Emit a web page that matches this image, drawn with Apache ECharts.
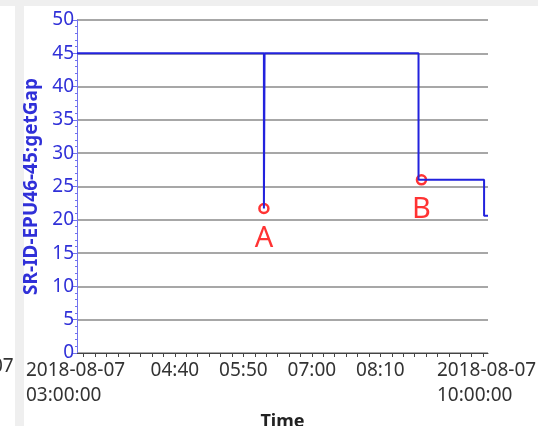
<!DOCTYPE html>
<html>
<head>
<meta charset="utf-8">
<script src="https://cdn.jsdelivr.net/npm/echarts@6/dist/echarts.min.js"></script>
<style>
  html, body { margin: 0; padding: 0; background: #efefef; }
  #chart { width: 538px; height: 426px; }
</style>
</head>
<body>
<div id="chart"></div>
<script>
// gap readback, step changes
var times = ['2018-08-07 03:00:00', '2018-08-07 06:11:00', '2018-08-07 06:11:40',
             '2018-08-07 08:49:00', '2018-08-07 09:56:00', '2018-08-07 10:00:00'];
var gapValues = [45, 21.7, 45, 26, 20.6, 20.6];

// marked points
var markTimes = ['2018-08-07 06:11:00', '2018-08-07 08:52:00'];
var markValues = [21.7, 26];
var markNames = ['A', 'B'];

// x axis labels and major ticks
var xLabelValues = ['2018-08-07 03:00:00', '2018-08-07 04:40:00', '2018-08-07 05:50:00',
                    '2018-08-07 07:00:00', '2018-08-07 08:10:00', '2018-08-07 10:00:00'];
var xLabelTexts = ['2018-08-07\n03:00:00', '04:40', '05:50', '07:00', '08:10', '2018-08-07\n10:00:00'];
var xMajorTicks = ['2018-08-07 03:30:00', '2018-08-07 04:40:00', '2018-08-07 05:50:00',
                   '2018-08-07 07:00:00', '2018-08-07 08:10:00', '2018-08-07 09:20:00'];

var yTicks = [0, 5, 10, 15, 20, 25, 30, 35, 40, 45, 50];

function ts(s) { return Date.parse(s.replace(' ', 'T') + 'Z'); }

var xMin = ts(times[0]);
var xMax = ts(times[times.length - 1]);

// 6 minor steps per 70 min major step
var tickVals = [];
var step = 70 * 60000 / 6;
var first = ts(xMajorTicks[0]);
for (var t = first - 6 * step; t <= xMax; t += step) {
  if (t >= xMin) tickVals.push(t);
}

var labelMap = {};
xLabelValues.forEach(function (v, i) { labelMap[ts(v)] = xLabelTexts[i]; });

var myChart = echarts.init(document.getElementById('chart'));

myChart.setOption({
  backgroundColor: '#efefef',
  textStyle: { fontFamily: 'Noto Sans' },
  animation: false,
  graphic: [
    { type: 'rect', z: -10, shape: { x: 0, y: 6, width: 15, height: 420 }, style: { fill: '#fff' } },
    { type: 'rect', z: -10, shape: { x: 24, y: 6, width: 514, height: 420 }, style: { fill: '#fff' } },
    { type: 'text', left: -8, top: 357, style: { text: '07', fill: '#333', font: '19px "Noto Sans"' } }
  ],
  grid: { left: 77, right: 50, top: 20, bottom: 73, outerBoundsMode: 'none', containLabel: false },
  xAxis: {
    type: 'value',
    min: xMin,
    max: xMax,
    name: 'Time',
    nameLocation: 'middle',
    nameGap: 47,
    nameTextStyle: { color: '#222', fontSize: 18, fontWeight: 'bold' },
    axisLine: { lineStyle: { color: '#444', width: 1 } },
    axisTick: { show: true, length: 4, customValues: tickVals, lineStyle: { color: '#444' } },
    splitLine: { show: false },
    axisLabel: {
      customValues: xLabelValues.map(ts),
      color: '#333',
      fontSize: 19,
      lineHeight: 25,
      margin: 5,
      formatter: function (val) {
        var txt = labelMap[val];
        if (txt && txt.indexOf('\n') >= 0) {
          var parts = txt.split('\n');
          return '{d|' + parts[0] + '}\n{d|' + parts[1] + '}';
        }
        return txt || '';
      },
      rich: {
        d: { width: 102, align: 'left', fontSize: 19, lineHeight: 25, color: '#333' }
      }
    }
  },
  yAxis: {
    type: 'value',
    min: 0,
    max: 50,
    interval: 5,
    name: 'SR-ID-EPU46-45:getGap',
    nameLocation: 'middle',
    nameGap: 25,
    nameTextStyle: { color: '#3030d8', fontSize: 19, fontWeight: 'bold' },
    axisLine: { show: true, lineStyle: { color: '#7272ee', width: 1 } },
    axisTick: { show: true, length: 4, lineStyle: { color: '#7272ee' } },
    minorTick: { show: true, splitNumber: 5, length: 2, lineStyle: { color: '#7272ee' } },
    splitLine: { lineStyle: { color: '#8a8a8a', width: 1.5 } },
    axisLabel: {
      color: '#3030d8',
      fontSize: 19,
      margin: 3,
      formatter: function (v) { return yTicks.indexOf(v) >= 0 ? String(v) : ''; }
    }
  },
  series: [
    {
      type: 'line',
      step: 'end',
      symbol: 'none',
      lineStyle: { color: '#2222dd', width: 2 },
      data: times.map(function (t, i) { return [ts(t), gapValues[i]]; })
    },
    {
      type: 'scatter',
      symbol: 'circle',
      symbolSize: 9,
      itemStyle: { color: '#fff', borderColor: '#ff0000', borderWidth: 2.5 },
      label: {
        show: true,
        position: 'bottom',
        distance: 10,
        color: '#ff0000',
        fontSize: 29,
        formatter: function (p) { return markNames[p.dataIndex]; }
      },
      data: markTimes.map(function (t, i) { return [ts(t), markValues[i]]; })
    }
  ]
});
</script>
</body>
</html>
